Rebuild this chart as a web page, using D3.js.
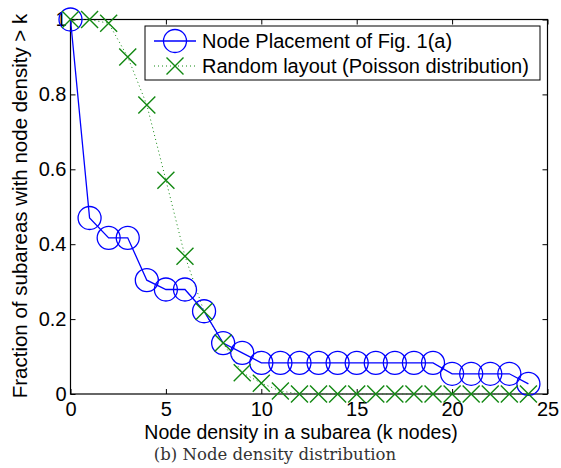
<!DOCTYPE html>
<html><head><meta charset="utf-8">
<script src="https://cdn.jsdelivr.net/npm/d3@7"></script>
<style>body{margin:0;background:#fff}svg{display:block}</style>
</head><body><svg id="c" width="561" height="468"></svg>
<script>
const kValues = d3.range(0, 25);
const placement = [1.0, 0.47, 0.417, 0.417, 0.304, 0.279, 0.279, 0.221, 0.136, 0.11, 0.083, 0.083, 0.083, 0.083, 0.083, 0.083, 0.083, 0.083, 0.083, 0.083, 0.054, 0.054, 0.054, 0.054, 0.027];
const randomLayout = [1.0, 1.0, 0.99, 0.9, 0.772, 0.571, 0.368, 0.22, 0.136, 0.057, 0.029, 0.008, 0, 0, 0, 0, 0, 0, 0, 0, 0, 0, 0, 0, 0];
const xTicks = [0, 5, 10, 15, 20, 25];
const yTicks = [0, 0.2, 0.4, 0.6, 0.8, 1];
const seriesNames = ["Node Placement of Fig. 1(a)", "Random layout (Poisson distribution)"];

const svg = d3.select("#c");
const L = 70.5, R = 547.5, T = 19.5, B = 394;
const x = d3.scaleLinear().domain([0, 25]).range([L, R]);
const y = d3.scaleLinear().domain([0, 1]).range([B, T]);
const font = "'Liberation Sans', Arial, sans-serif";

// axes with inward ticks
const ax = svg.append("g").attr("font-family", font);
ax.append("g").attr("transform", `translate(0,${B})`)
  .call(d3.axisBottom(x).tickValues(xTicks).tickSizeInner(-5).tickSizeOuter(0).tickPadding(8).tickFormat(d3.format("d")));
ax.append("g").attr("transform", `translate(0,${T})`)
  .call(d3.axisTop(x).tickValues(xTicks).tickSizeInner(-5).tickSizeOuter(0).tickFormat(""));
ax.append("g").attr("transform", `translate(${L},0)`)
  .call(d3.axisLeft(y).tickValues(yTicks).tickSizeInner(-5).tickSizeOuter(0).tickPadding(4).tickFormat(d => d === 0 || d === 1 ? d3.format("d")(d) : d3.format(".1f")(d)));
ax.append("g").attr("transform", `translate(${R},0)`)
  .call(d3.axisRight(y).tickValues(yTicks).tickSizeInner(-5).tickSizeOuter(0).tickFormat(""));
ax.selectAll(".domain").remove();
ax.selectAll("line").attr("stroke", "#000").attr("stroke-width", 1);
ax.selectAll("text").attr("font-size", 20).attr("fill", "#000").attr("font-family", font);
svg.append("rect").attr("x", L).attr("y", T).attr("width", R - L).attr("height", B - T)
  .attr("fill", "none").attr("stroke", "#000").attr("stroke-width", 1.2);

// green series
const green = "#118811";
const line = d3.line().x((d, i) => x(kValues[i])).y(d => y(d));
svg.append("path").datum(randomLayout).attr("d", line).attr("fill", "none")
  .attr("stroke", green).attr("stroke-width", 1).attr("stroke-dasharray", "1,3");
const xs = 8.5;
function cross(g, cx, cy) {
  g.append("path").attr("d", `M${cx - xs},${cy - xs}L${cx + xs},${cy + xs}M${cx - xs},${cy + xs}L${cx + xs},${cy - xs}`)
    .attr("stroke", green).attr("stroke-width", 1.4).attr("fill", "none");
}
// blue series
const blue = "#0000ff";
svg.append("path").datum(placement).attr("d", line).attr("fill", "none")
  .attr("stroke", blue).attr("stroke-width", 1.3);
const bg = svg.append("g");
placement.forEach((d, i) => {
  bg.append("circle").attr("cx", x(kValues[i])).attr("cy", y(d)).attr("r", 11.5)
    .attr("fill", "none").attr("stroke", blue).attr("stroke-width", 1.3);
});
const gg = svg.append("g");
randomLayout.forEach((d, i) => cross(gg, x(kValues[i]), y(d)));

// legend
const lg = svg.append("g");
lg.append("rect").attr("x", 145).attr("y", 26).attr("width", 395).attr("height", 54)
  .attr("fill", "#fff").attr("stroke", "#000").attr("stroke-width", 1);
lg.append("line").attr("x1", 154).attr("x2", 196).attr("y1", 41).attr("y2", 41).attr("stroke", blue).attr("stroke-width", 1.3);
lg.append("circle").attr("cx", 175).attr("cy", 41).attr("r", 11.5).attr("fill", "none").attr("stroke", blue).attr("stroke-width", 1.3);
lg.append("line").attr("x1", 154).attr("x2", 196).attr("y1", 66).attr("y2", 66).attr("stroke", green).attr("stroke-width", 1).attr("stroke-dasharray", "1,3");
cross(lg, 175, 66);
lg.selectAll("text.l").data(seriesNames).enter().append("text")
  .attr("x", 202).attr("y", (d, i) => 48 + i * 25).text(d => d)
  .attr("font-family", font).attr("font-size", 20).attr("fill", "#000");

// labels
svg.append("text").attr("x", 301).attr("y", 439).attr("text-anchor", "middle")
  .attr("font-family", font).attr("font-size", 19.5).text("Node density in a subarea (k nodes)");
svg.append("text").attr("transform", `translate(27,206) rotate(-90)`).attr("text-anchor", "middle")
  .attr("font-family", font).attr("font-size", 20.5).text("Fraction of subareas with node density > k");
svg.append("text").attr("x", 275).attr("y", 460).attr("text-anchor", "middle")
  .attr("font-family", "'DejaVu Serif', 'Liberation Serif', serif").attr("font-size", 16.5).attr("fill", "#333")
  .text("(b) Node density distribution");
</script></body></html>
